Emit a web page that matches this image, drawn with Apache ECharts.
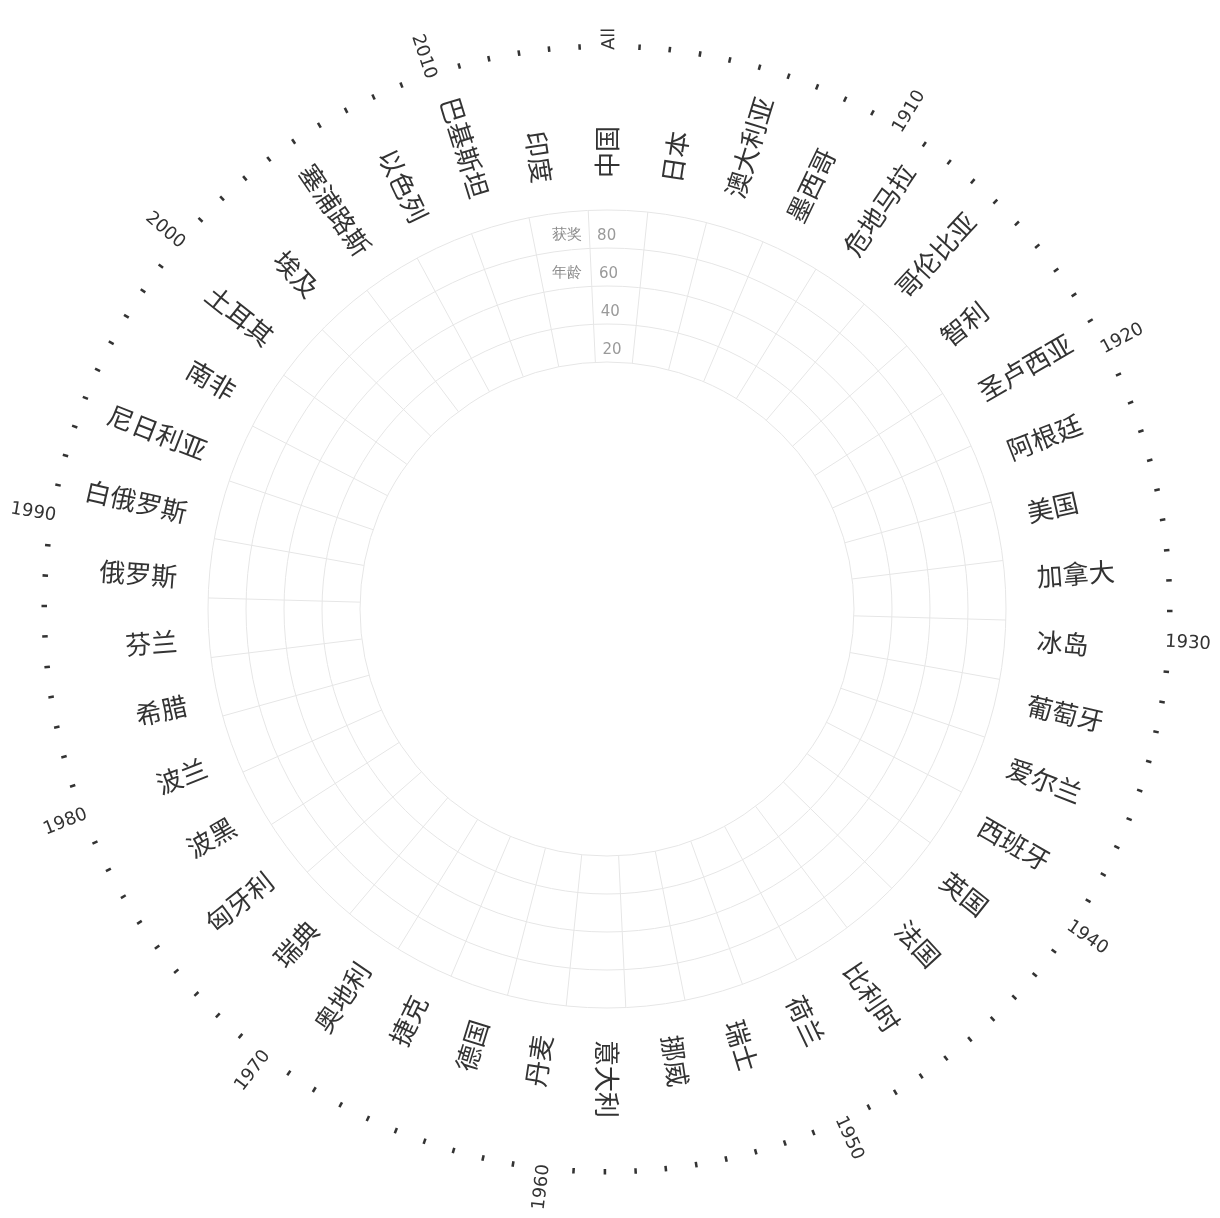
<!DOCTYPE html>
<html><head><meta charset="utf-8">
<script src="https://cdn.jsdelivr.net/npm/echarts@6/dist/echarts.min.js"></script>
<style>html,body{margin:0;padding:0;background:#fff}#main{width:1220px;height:1218px}</style>
</head><body><div id="main"></div>
<script>
const countries = ['中国','日本','澳大利亚','墨西哥','危地马拉','哥伦比亚','智利','圣卢西亚','阿根廷','美国','加拿大','冰岛','葡萄牙','爱尔兰','西班牙','英国','法国','比利时','荷兰','瑞士','挪威','意大利','丹麦','德国','捷克','奥地利','瑞典','匈牙利','波黑','波兰','希腊','芬兰','俄罗斯','白俄罗斯','尼日利亚','南非','土耳其','埃及','塞浦路斯','以色列','巴基斯坦','印度'];
const years = ['All','1901','1902','1903','1904','1905','1906','1907','1908','1909','1910','1911','1912','1913','1914','1915','1916','1917','1918','1919','1920','1921','1922','1923','1924','1925','1926','1927','1928','1929','1930','1931','1932','1933','1934','1935','1936','1937','1938','1939','1940','1941','1942','1943','1944','1945','1946','1947','1948','1949','1950','1951','1952','1953','1954','1955','1956','1957','1958','1959','1960','1961','1962','1963','1964','1965','1966','1967','1968','1969','1970','1971','1972','1973','1974','1975','1976','1977','1978','1979','1980','1981','1982','1983','1984','1985','1986','1987','1988','1989','1990','1991','1992','1993','1994','1995','1996','1997','1998','1999','2000','2001','2002','2003','2004','2005','2006','2007','2008','2009','2010','2011','2012','2013','2014','2015'];
const ageTicks = ['20','40','60','80'];
const awardAges = [];

function yearText(y) { return (y === 'All' || Number(y) % 10 === 0) ? y : '-'; }

function radialLabel(texts, fontSize, color, family) {
  return function (params, api) {
    const cs = params.coordSys;
    const p = api.coord([api.value(0), api.value(1)]);
    const theta = Math.atan2(cs.cy - p[1], p[0] - cs.cx);
    const outward = Math.cos(theta) > -0.03;
    const t = texts[params.dataIndex];
    return {
      type: 'text', x: p[0], y: p[1],
      rotation: outward ? theta : theta + Math.PI,
      silent: true,
      style: {
        text: t, align: outward ? 'left' : 'right',
        verticalAlign: 'middle', fontSize: fontSize, fill: color, fontFamily: family,
        fontWeight: t === '-' ? 'bold' : 'normal'
      }
    };
  };
}

const chart = echarts.init(document.getElementById('main'));
chart.setOption({
  animation: false,
  polar: [
    {center: [607, 609], radius: [247, 399]},
    {center: [607, 609], radius: [0, 559]},
    {center: [607, 609], radius: [0, 431]}
  ],
  angleAxis: [
    {polarIndex: 0, type: 'category', data: countries, startAngle: 92.7, clockwise: true,
     axisLine: {show: false}, axisTick: {show: false}, axisLabel: {show: false, interval: 0},
     splitLine: {show: true, interval: 0, lineStyle: {color: '#e6e6e6', width: 1}}},
    {polarIndex: 1, type: 'category', data: years, startAngle: 91.3, clockwise: true, show: false},
    {polarIndex: 2, type: 'category', data: countries, startAngle: 90 + 180 / countries.length, clockwise: true, show: false}
  ],
  radiusAxis: [
    {polarIndex: 0, type: 'category', data: ageTicks,
     axisLine: {show: false}, axisTick: {show: false},
     axisLabel: {fontSize: 15, color: '#9a9a9a', fontFamily: 'DejaVu Sans', verticalAlign: 'top', align: 'left', margin: -8},
     splitLine: {show: true, lineStyle: {color: '#e6e6e6', width: 1}},
     name: '获奖\n年龄', nameLocation: 'end', nameGap: -43, nameMoveOverlap: false,
     nameTextStyle: {fontSize: 15, color: '#8c8c8c', lineHeight: 38, padding: [0, 8, 0, 0]}},
    {polarIndex: 1, type: 'value', min: 0, max: 1, show: false},
    {polarIndex: 2, type: 'value', min: 0, max: 1, show: false}
  ],
  series: [
    {type: 'scatter', coordinateSystem: 'polar', polarIndex: 0, data: awardAges},
    {type: 'custom', coordinateSystem: 'polar', polarIndex: 1, silent: true,
     data: years.map(function (y, i) { return [1, i]; }),
     renderItem: radialLabel(years.map(yearText), 18, '#333', 'DejaVu Sans')},
    {type: 'custom', coordinateSystem: 'polar', polarIndex: 2, silent: true,
     data: countries.map(function (c, i) { return [1, i]; }),
     renderItem: radialLabel(countries, 26, '#333', 'Noto Sans CJK SC')}
  ]
});
</script>
</body></html>
